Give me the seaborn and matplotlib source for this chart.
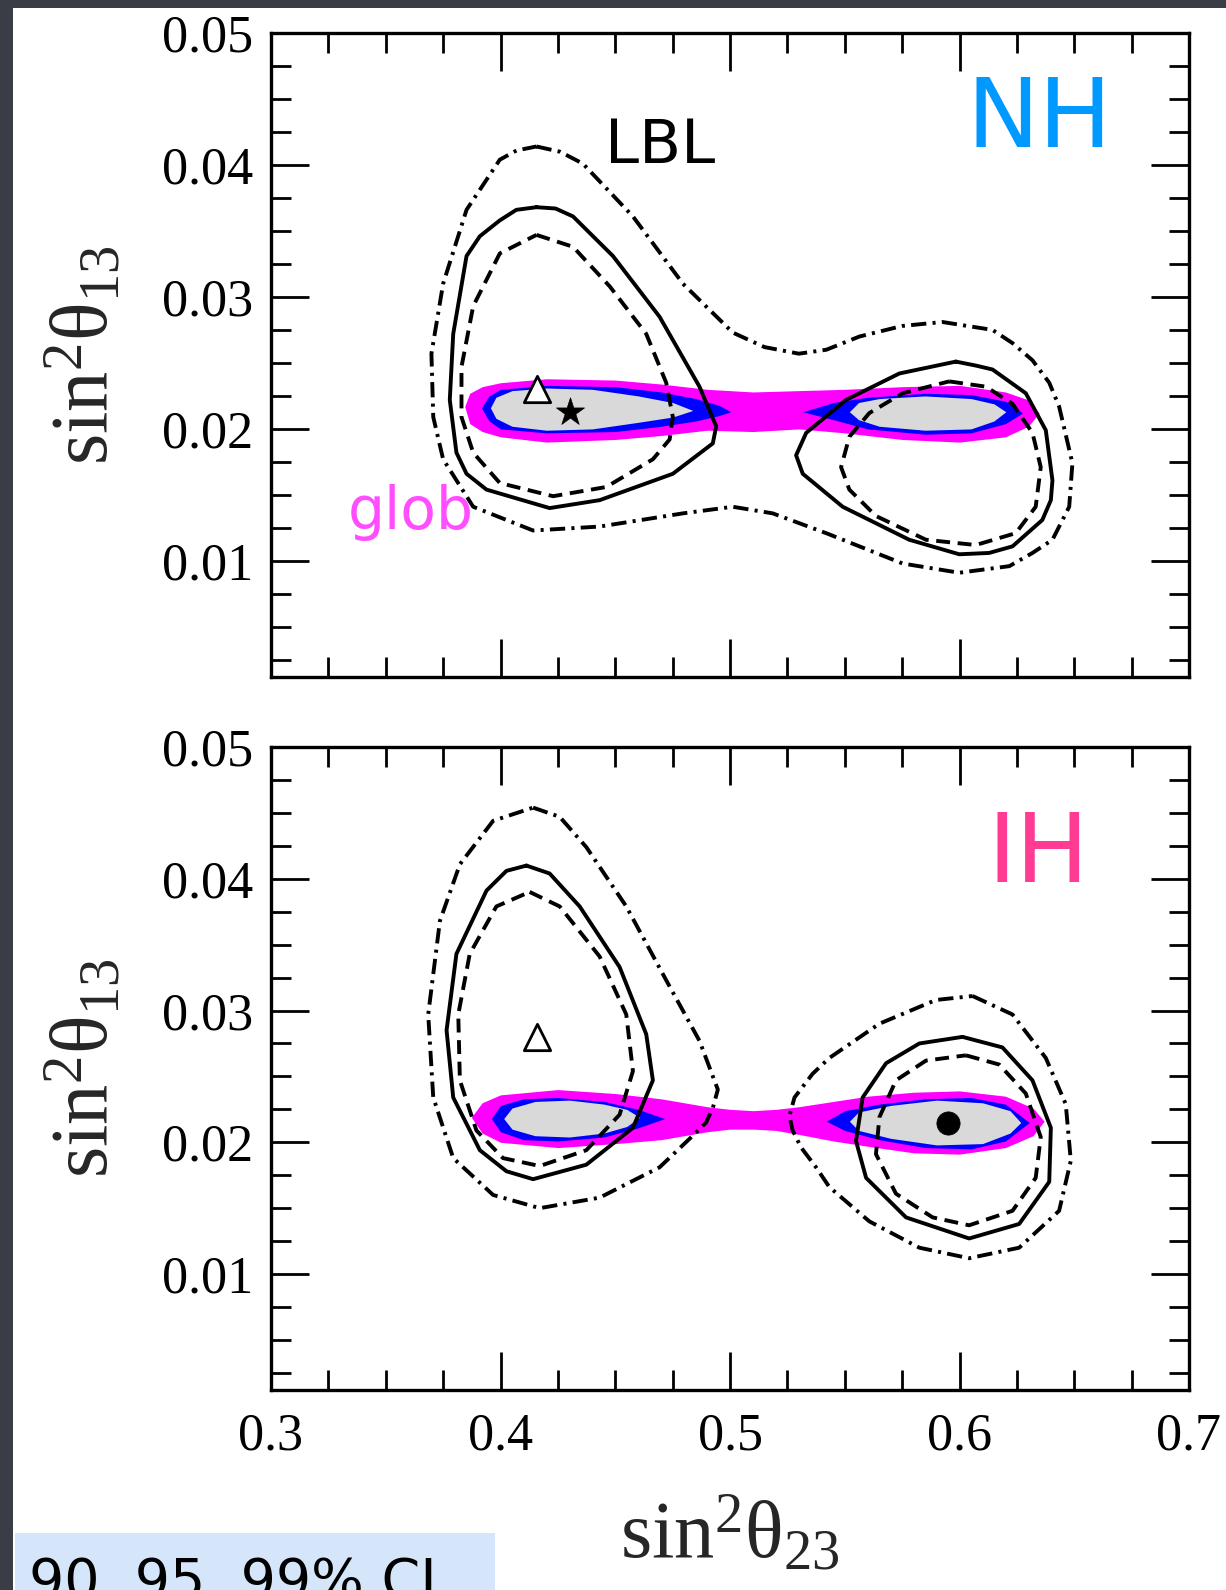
import matplotlib
matplotlib.use("Agg")
import matplotlib.pyplot as plt
from matplotlib.patches import Rectangle
from matplotlib.ticker import MultipleLocator, FormatStrFormatter
import seaborn as sns

# ---------------- data ----------------
# closed contour curves: lists of (sin^2 theta23, sin^2 theta13)
nh_dashdot = [(0.4157, 0.0414), (0.4260, 0.0410), (0.4359, 0.0401), (0.4577, 0.0361), (0.4795, 0.0310),
              (0.5012, 0.0273), (0.5150, 0.0262), (0.5300, 0.0257), (0.5420, 0.0260), (0.5564, 0.0270),
              (0.5750, 0.0278), (0.5926, 0.0281), (0.6144, 0.0275), (0.6231, 0.0265), (0.6318, 0.0252),
              (0.6391, 0.0235), (0.6434, 0.0217), (0.6492, 0.0174), (0.6478, 0.0141), (0.6405, 0.0116),
              (0.6318, 0.0106), (0.6217, 0.0096), (0.5999, 0.0091), (0.5752, 0.0098), (0.5419, 0.0121),
              (0.5186, 0.0136), (0.5012, 0.0141), (0.4795, 0.0136), (0.4432, 0.0126), (0.4142, 0.0123),
              (0.3881, 0.0141), (0.3750, 0.0177), (0.3707, 0.0209), (0.3699, 0.0257), (0.3750, 0.0310),
              (0.3852, 0.0366), (0.3997, 0.0404), (0.4070, 0.0411)]
nh_solid_left = [(0.4157, 0.0368), (0.4240, 0.0367), (0.4316, 0.0361), (0.4490, 0.0331), (0.4693, 0.0285),
                 (0.4867, 0.0232), (0.4940, 0.0202), (0.4925, 0.0189), (0.4751, 0.0166), (0.4432, 0.0146),
                 (0.4214, 0.0140), (0.3939, 0.0154), (0.3852, 0.0166), (0.3808, 0.0182), (0.3779, 0.0222),
                 (0.3794, 0.0272), (0.3852, 0.0331), (0.3910, 0.0346), (0.3997, 0.0358), (0.4069, 0.0366)]
nh_dashed_left = [(0.4157, 0.0347), (0.4316, 0.0338), (0.4476, 0.0308), (0.4635, 0.0272), (0.4722, 0.0235),
                  (0.4751, 0.0209), (0.4737, 0.0192), (0.4664, 0.0177), (0.4461, 0.0156), (0.4229, 0.0149),
                  (0.3997, 0.0159), (0.3881, 0.0182), (0.3830, 0.0209), (0.3830, 0.0247), (0.3881, 0.0293),
                  (0.3997, 0.0333)]
nh_solid_right = [(0.5984, 0.0251), (0.6071, 0.0248), (0.6144, 0.0245), (0.6289, 0.0227), (0.6376, 0.0199),
                  (0.6405, 0.0161), (0.6398, 0.0146), (0.6361, 0.0131), (0.6231, 0.0111), (0.6129, 0.0106),
                  (0.5999, 0.0105), (0.5781, 0.0116), (0.5491, 0.0141), (0.5317, 0.0166), (0.5288, 0.0180),
                  (0.5332, 0.0197), (0.5506, 0.0222), (0.5738, 0.0242)]
nh_dashed_right = [(0.5955, 0.0236), (0.6115, 0.0232), (0.6231, 0.0219), (0.6318, 0.0197), (0.6354, 0.0171),
                   (0.6332, 0.0141), (0.6245, 0.0121), (0.6071, 0.0112), (0.5854, 0.0116), (0.5636, 0.0134),
                   (0.5520, 0.0154), (0.5484, 0.0171), (0.5520, 0.0194), (0.5607, 0.0212), (0.5752, 0.0227)]

ih_dashdot_left = [(0.4142, 0.0454), (0.4258, 0.0447), (0.4374, 0.0424), (0.4548, 0.0379), (0.4722, 0.0323),
                   (0.4867, 0.0277), (0.4947, 0.0240), (0.4925, 0.0226), (0.4896, 0.0215), (0.4838, 0.0205),
                   (0.4693, 0.0181), (0.4432, 0.0158), (0.4171, 0.0150), (0.3968, 0.0160), (0.3794, 0.0188),
                   (0.3707, 0.0234), (0.3685, 0.0297), (0.3736, 0.0368), (0.3823, 0.0411), (0.3968, 0.0444)]
ih_dashdot_right = [(0.6057, 0.0311), (0.6231, 0.0297), (0.6376, 0.0264), (0.6463, 0.0229), (0.6485, 0.0186),
                    (0.6434, 0.0148), (0.6260, 0.0120), (0.6042, 0.0112), (0.5825, 0.0120), (0.5607, 0.0140),
                    (0.5433, 0.0166), (0.5375, 0.0181), (0.5310, 0.0196), (0.5273, 0.0209), (0.5259, 0.0220),
                    (0.5281, 0.0234), (0.5360, 0.0252), (0.5433, 0.0264), (0.5651, 0.0290), (0.5897, 0.0308)]
ih_solid_left = [(0.4113, 0.0410), (0.4214, 0.0404), (0.4345, 0.0379), (0.4519, 0.0333), (0.4635, 0.0282),
                 (0.4664, 0.0247), (0.4577, 0.0211), (0.4374, 0.0183), (0.4142, 0.0172), (0.4026, 0.0178),
                 (0.3910, 0.0194), (0.3794, 0.0234), (0.3765, 0.0285), (0.3808, 0.0343), (0.3939, 0.0391),
                 (0.4026, 0.0406)]
ih_dashed_left = [(0.4127, 0.0390), (0.4258, 0.0379), (0.4432, 0.0341), (0.4548, 0.0297), (0.4577, 0.0254),
                  (0.4519, 0.0221), (0.4374, 0.0194), (0.4171, 0.0182), (0.4011, 0.0188), (0.3895, 0.0209),
                  (0.3823, 0.0247), (0.3816, 0.0297), (0.3866, 0.0343), (0.3982, 0.0379)]
ih_solid_right = [(0.6013, 0.0280), (0.6187, 0.0272), (0.6318, 0.0247), (0.6398, 0.0211), (0.6391, 0.0170),
                  (0.6260, 0.0138), (0.6042, 0.0127), (0.5767, 0.0143), (0.5593, 0.0173), (0.5549, 0.0201),
                  (0.5578, 0.0234), (0.5680, 0.0260), (0.5825, 0.0275)]
ih_dashed_right = [(0.6028, 0.0266), (0.6173, 0.0259), (0.6289, 0.0237), (0.6354, 0.0204), (0.6332, 0.0173),
                   (0.6231, 0.0148), (0.6042, 0.0137), (0.5883, 0.0143), (0.5723, 0.0161), (0.5636, 0.0191),
                   (0.5651, 0.0219), (0.5723, 0.0247), (0.5854, 0.0262)]

# filled global-fit regions: (x, upper edge, lower edge)
nh_magenta = [(0.3844, 0.0217, 0.0217), (0.3866, 0.0227, 0.0204), (0.392, 0.0232, 0.0198), (0.400, 0.0235, 0.0194),
              (0.420, 0.0238, 0.0190), (0.450, 0.0237, 0.0192), (0.470, 0.0234, 0.0195), (0.490, 0.0230, 0.0199),
              (0.510, 0.0228, 0.0198), (0.530, 0.0229, 0.0200), (0.550, 0.0230, 0.0197), (0.575, 0.0232, 0.0192),
              (0.600, 0.0233, 0.0190), (0.620, 0.0228, 0.0194), (0.630, 0.0222, 0.0202), (0.6347, 0.0212, 0.0212)]
nh_blue_left = [(0.3917, 0.0216, 0.0216), (0.395, 0.0225, 0.0206), (0.400, 0.0230, 0.0200), (0.420, 0.0233, 0.0197),
                (0.450, 0.0232, 0.0198), (0.470, 0.0228, 0.0202), (0.485, 0.0223, 0.0206), (0.495, 0.0218, 0.0210),
                (0.5004, 0.0213, 0.0213)]
nh_grey_left = [(0.3956, 0.0216, 0.0216), (0.398, 0.0224, 0.0208), (0.405, 0.0229, 0.0202), (0.420, 0.0231, 0.0199),
                (0.440, 0.0230, 0.0200), (0.460, 0.0225, 0.0205), (0.475, 0.0220, 0.0209), (0.4838, 0.0214, 0.0214)]
nh_blue_right = [(0.5317, 0.0213, 0.0213), (0.545, 0.0220, 0.0207), (0.560, 0.0224, 0.0200), (0.585, 0.0227, 0.0196),
                 (0.605, 0.0226, 0.0197), (0.620, 0.0221, 0.0204), (0.6275, 0.0212, 0.0212)]
nh_grey_right = [(0.5520, 0.0213, 0.0213), (0.556, 0.0220, 0.0207), (0.565, 0.0223, 0.0202), (0.585, 0.0225, 0.0199),
                 (0.605, 0.0223, 0.0200), (0.615, 0.0219, 0.0206), (0.6202, 0.0213, 0.0213)]

ih_magenta = [(0.3873, 0.0219, 0.0219), (0.392, 0.0230, 0.0207), (0.400, 0.0236, 0.0200), (0.425, 0.0240, 0.0196),
              (0.450, 0.0237, 0.0199), (0.470, 0.0233, 0.0202), (0.480, 0.0230, 0.0205), (0.490, 0.0227, 0.0208),
              (0.500, 0.0225, 0.0210), (0.510, 0.0224, 0.0210), (0.520, 0.0225, 0.0209), (0.530, 0.0227, 0.0206),
              (0.545, 0.0231, 0.0201), (0.560, 0.0235, 0.0197), (0.580, 0.0238, 0.0192), (0.600, 0.0239, 0.0191),
              (0.620, 0.0235, 0.0196), (0.632, 0.0226, 0.0205), (0.6369, 0.0216, 0.0216)]
ih_blue_left = [(0.3960, 0.0218, 0.0218), (0.400, 0.0228, 0.0208), (0.410, 0.0233, 0.0202), (0.425, 0.0234, 0.0201),
                (0.445, 0.0231, 0.0204), (0.460, 0.0225, 0.0211), (0.4715, 0.0218, 0.0218)]
ih_grey_left = [(0.4014, 0.0218, 0.0218), (0.405, 0.0226, 0.0210), (0.415, 0.0231, 0.0205), (0.430, 0.0232, 0.0204),
                (0.445, 0.0229, 0.0207), (0.455, 0.0225, 0.0212), (0.4606, 0.0219, 0.0219)]
ih_blue_right = [(0.5419, 0.0216, 0.0216), (0.550, 0.0224, 0.0209), (0.565, 0.0229, 0.0202), (0.585, 0.0233, 0.0196),
                 (0.605, 0.0234, 0.0195), (0.620, 0.0229, 0.0201), (0.6304, 0.0215, 0.0215)]
ih_grey_right = [(0.5520, 0.0216, 0.0216), (0.556, 0.0223, 0.0209), (0.570, 0.0228, 0.0203), (0.590, 0.0232, 0.0198),
                 (0.610, 0.0230, 0.0199), (0.622, 0.0224, 0.0207), (0.6267, 0.0215, 0.0215)]

# best-fit points
nh_lbl_triangle = (0.4160, 0.0230)
nh_glob_star = (0.4301, 0.0213)
ih_lbl_triangle = (0.4160, 0.0280)
ih_glob_dot = (0.5948, 0.0215)

x_ticks = [0.3, 0.4, 0.5, 0.6, 0.7]
y_ticks = [0.01, 0.02, 0.03, 0.04, 0.05]

# ---------------- style ----------------
sns.set_theme(style="ticks")
plt.rcParams["font.family"] = ["Liberation Serif", "DejaVu Serif"]
plt.rcParams["mathtext.fontset"] = "custom"
plt.rcParams["mathtext.rm"] = "Liberation Serif"
plt.rcParams["mathtext.it"] = "Liberation Serif"
plt.rcParams["mathtext.default"] = "regular"
plt.rcParams["lines.scale_dashes"] = False

DPI = 100
fig = plt.figure(figsize=(1226 / DPI, 1590 / DPI), dpi=DPI)
fig.patch.set_facecolor("#3a3d45")
fig.add_artist(Rectangle((12.5 / 1226, 0), 1 - 12.5 / 1226, 1 - 8 / 1590, transform=fig.transFigure,
                         facecolor="white", edgecolor="none", zorder=-5))
fig.add_artist(Rectangle((15 / 1226, 0), 480 / 1226, 57 / 1590, transform=fig.transFigure,
                         facecolor="#d5e6fb", edgecolor="none", zorder=-4))
fig.text(29 / 1226, 1 - 1598 / 1590, "90, 95, 99% CL", family=["DejaVu Sans"], fontsize=40,
         ha="left", va="baseline", color="black")

ax_top = fig.add_axes([271 / 1226, 1 - 677 / 1590, 918 / 1226, 644 / 1590])
ax_bot = fig.add_axes([271 / 1226, 1 - 1390 / 1590, 918 / 1226, 643 / 1590])

SOLID = "-"
DASHED = (0, (10.0, 5.5))
DASHDOT = (0, (11.0, 4.5, 2.2, 4.5))
LW = 2.8


def draw_curve(ax, pts, ls):
    xs = [p[0] for p in pts] + [pts[0][0]]
    ys = [p[1] for p in pts] + [pts[0][1]]
    n_before = len(ax.lines)
    sns.lineplot(x=xs, y=ys, sort=False, estimator=None, ax=ax, color="black", zorder=5)
    for line in ax.lines[n_before:]:
        line.set_linewidth(LW)
        line.set_linestyle(ls)
        line.set_solid_joinstyle("round")
        line.set_dash_joinstyle("round")
        line.set_dash_capstyle("butt")


def draw_fill(ax, region, color):
    xs = [r[0] for r in region]
    up = [r[1] for r in region]
    lo = [r[2] for r in region]
    ax.fill_between(xs, lo, up, color=color, linewidth=0, zorder=2)


def style_axes(ax, show_xlabels):
    ax.set_xlim(0.3, 0.7)
    ax.set_ylim(0.0012, 0.05)
    ax.set_xticks(x_ticks)
    ax.set_yticks(y_ticks)
    ax.xaxis.set_minor_locator(MultipleLocator(0.025))
    ax.yaxis.set_minor_locator(MultipleLocator(0.0025))
    ax.xaxis.set_major_formatter(FormatStrFormatter("%.1f"))
    ax.yaxis.set_major_formatter(FormatStrFormatter("%.2f"))
    ax.tick_params(which="both", direction="in", top=True, right=True, colors="black",
                   width=2.0, labelsize=37.5)
    ax.tick_params(which="major", length=27.5)
    ax.tick_params(which="minor", length=14.5)
    ax.tick_params(axis="y", pad=13)
    ax.tick_params(axis="x", pad=16, labelbottom=show_xlabels)
    for sp in ax.spines.values():
        sp.set_linewidth(2.4)
        sp.set_color("black")
        sp.set_visible(True)
    ax.set_facecolor("white")
    ax.set_ylabel(r"$sin^{2}\theta_{13}$", fontsize=58)
    ax.yaxis.set_label_coords(-0.159, 0.5)
    ax.set_xlabel("")


# ---- NH panel ----
draw_fill(ax_top, nh_magenta, "#ff00ff")
draw_fill(ax_top, nh_blue_left, "#0000ff")
draw_fill(ax_top, nh_blue_right, "#0000ff")
draw_fill(ax_top, nh_grey_left, "#d9d9d9")
draw_fill(ax_top, nh_grey_right, "#d9d9d9")
draw_curve(ax_top, nh_dashdot, DASHDOT)
draw_curve(ax_top, nh_solid_left, SOLID)
draw_curve(ax_top, nh_dashed_left, DASHED)
draw_curve(ax_top, nh_solid_right, SOLID)
draw_curve(ax_top, nh_dashed_right, DASHED)
sns.scatterplot(x=[nh_lbl_triangle[0]], y=[nh_lbl_triangle[1]], marker="^", s=360, color="white",
                edgecolor="black", linewidth=2.0, ax=ax_top, zorder=7)
sns.scatterplot(x=[nh_glob_star[0]], y=[nh_glob_star[1]], marker="*", s=450, color="black",
                edgecolor="black", linewidth=0.5, ax=ax_top, zorder=7)
ax_top.text(0.6347, 0.04136, "NH", color="#0099ff", fontsize=70, family=["DejaVu Sans"],
            ha="center", va="baseline", zorder=8)
ax_top.text(0.4697, 0.04015, "LBL", color="black", fontsize=44, family=["DejaVu Sans"],
            ha="center", va="baseline", zorder=8)
ax_top.text(0.3609, 0.01242, "glob", color="#ff4dff", fontsize=42, family=["DejaVu Sans"],
            ha="center", va="baseline", zorder=8)
style_axes(ax_top, False)

# ---- IH panel ----
draw_fill(ax_bot, ih_magenta, "#ff00ff")
draw_fill(ax_bot, ih_blue_left, "#0000ff")
draw_fill(ax_bot, ih_blue_right, "#0000ff")
draw_fill(ax_bot, ih_grey_left, "#d9d9d9")
draw_fill(ax_bot, ih_grey_right, "#d9d9d9")
draw_curve(ax_bot, ih_dashdot_left, DASHDOT)
draw_curve(ax_bot, ih_dashdot_right, DASHDOT)
draw_curve(ax_bot, ih_solid_left, SOLID)
draw_curve(ax_bot, ih_dashed_left, DASHED)
draw_curve(ax_bot, ih_solid_right, SOLID)
draw_curve(ax_bot, ih_dashed_right, DASHED)
sns.scatterplot(x=[ih_lbl_triangle[0]], y=[ih_lbl_triangle[1]], marker="^", s=360, color="white",
                edgecolor="black", linewidth=2.0, ax=ax_bot, zorder=7)
sns.scatterplot(x=[ih_glob_dot[0]], y=[ih_glob_dot[1]], marker="o", s=280, color="black",
                edgecolor="black", linewidth=0.5, ax=ax_bot, zorder=7)
ax_bot.text(0.6343, 0.03973, "IH", color="#ff3b94", fontsize=70, family=["DejaVu Sans"],
            ha="center", va="baseline", zorder=8)
style_axes(ax_bot, True)
ax_bot.set_xlabel(r"$sin^{2}\theta_{23}$", fontsize=58)
ax_bot.xaxis.set_label_coords(0.5, -0.165)
ax_bot.xaxis.label.set_va("top")

fig.savefig("out.png", dpi=DPI, facecolor=fig.get_facecolor())
